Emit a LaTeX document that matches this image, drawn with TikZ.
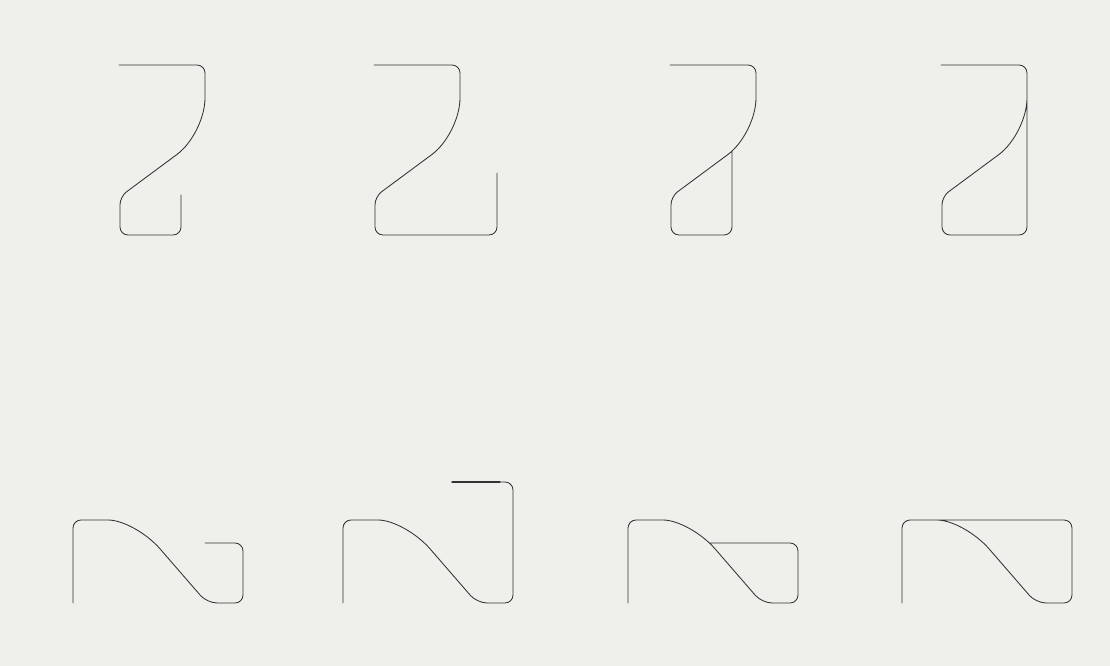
\documentclass[tikz,border=0pt]{standalone}
\definecolor{paper}{RGB}{239,239,235}
\definecolor{ink}{RGB}{50,50,50}
\tikzset{pen/.style={draw=ink,line width=0.85pt,line cap=round,line join=round}}
\begin{document}
\begin{tikzpicture}[x=1pt,y=-1pt]
\fill[paper] (0,0) rectangle (1110,666);
\useasboundingbox (0,0) rectangle (1110,666);
% ---- top row ----
\draw[pen] (119,65) -- (197,65) .. controls (201.4,65) and (205,68.6) .. (205,73) -- (205,98) .. controls (205,117.6) and (192.4,143.0) .. (176.9,154.5) -- (126.4,191.9) .. controls (122.9,194.5) and (120,200.3) .. (120,204.7) -- (120,227) .. controls (120,231.4) and (123.6,235) .. (128,235) -- (173,235) .. controls (177.4,235) and (181,231.4) .. (181,227) -- (181,195);
\begin{scope}[xshift=255pt]
\draw[pen] (119,65) -- (197,65) .. controls (201.4,65) and (205,68.6) .. (205,73) -- (205,98) .. controls (205,117.6) and (192.4,143.0) .. (176.9,154.5) -- (126.4,191.9) .. controls (122.9,194.5) and (120,200.3) .. (120,204.7) -- (120,227) .. controls (120,231.4) and (123.6,235) .. (128,235) -- (234,235) .. controls (238.4,235) and (242,231.4) .. (242,227) -- (242,173);
\end{scope}
\begin{scope}[xshift=551pt]
\draw[pen] (119,65) -- (197,65) .. controls (201.4,65) and (205,68.6) .. (205,73) -- (205,98) .. controls (205,117.6) and (192.4,143.0) .. (176.9,154.5) -- (126.4,191.9) .. controls (122.9,194.5) and (120,200.3) .. (120,204.7) -- (120,227) .. controls (120,231.4) and (123.6,235) .. (128,235) -- (173,235) .. controls (177.4,235) and (181,231.4) .. (181,227) -- (181,151.1);
\end{scope}
\begin{scope}[xshift=822pt]
\draw[pen] (119,65) -- (197,65) .. controls (201.4,65) and (205,68.6) .. (205,73) -- (205,227) .. controls (205,231.4) and (201.4,235) .. (197,235) -- (128,235) .. controls (123.6,235) and (120,231.4) .. (120,227) -- (120,204.7) .. controls (120,200.3) and (122.9,194.5) .. (126.4,191.9) -- (176.9,154.5) .. controls (192.4,143.0) and (205,117.6) .. (205,98);
\end{scope}
% ---- bottom row ----
\draw[pen] (73,603) -- (73,528) .. controls (73,523.6) and (76.6,520) .. (81,520) -- (108,520) .. controls (122.9,520) and (146.2,533.0) .. (160,548.8) -- (200.5,595.5) .. controls (204.1,599.6) and (211.6,603) .. (217.1,603) -- (235,603) .. controls (239.4,603) and (243,599.4) .. (243,595) -- (243,551) .. controls (243,546.6) and (239.4,543) .. (235,543) -- (205,543);
\begin{scope}[xshift=270pt]
\draw[pen] (73,603) -- (73,528) .. controls (73,523.6) and (76.6,520) .. (81,520) -- (108,520) .. controls (122.9,520) and (146.2,533.0) .. (160,548.8) -- (200.5,595.5) .. controls (204.1,599.6) and (211.6,603) .. (217.1,603) -- (235,603) .. controls (239.4,603) and (243,599.4) .. (243,595) -- (243,490) .. controls (243,485.6) and (239.4,482) .. (235,482) -- (182,482);
\draw[pen,line width=1.3pt] (182,482) -- (230,482);
\end{scope}
\begin{scope}[xshift=555pt]
\draw[pen] (73,603) -- (73,528) .. controls (73,523.6) and (76.6,520) .. (81,520) -- (108,520) .. controls (122.9,520) and (146.2,533.0) .. (160,548.8) -- (200.5,595.5) .. controls (204.1,599.6) and (211.6,603) .. (217.1,603) -- (235,603) .. controls (239.4,603) and (243,599.4) .. (243,595) -- (243,551) .. controls (243,546.6) and (239.4,543) .. (235,543) -- (154.3,543);
\end{scope}
\begin{scope}[xshift=829pt]
\draw[pen] (73,603) -- (73,528) .. controls (73,523.6) and (76.6,520) .. (81,520) -- (235,520) .. controls (239.4,520) and (243,523.6) .. (243,528) -- (243,595) .. controls (243,599.4) and (239.4,603) .. (235,603) -- (217.1,603) .. controls (211.6,603) and (204.1,599.6) .. (200.5,595.5) -- (160,548.8) .. controls (146.2,533.0) and (122.9,520) .. (108,520);
\end{scope}
\end{tikzpicture}
\end{document}
